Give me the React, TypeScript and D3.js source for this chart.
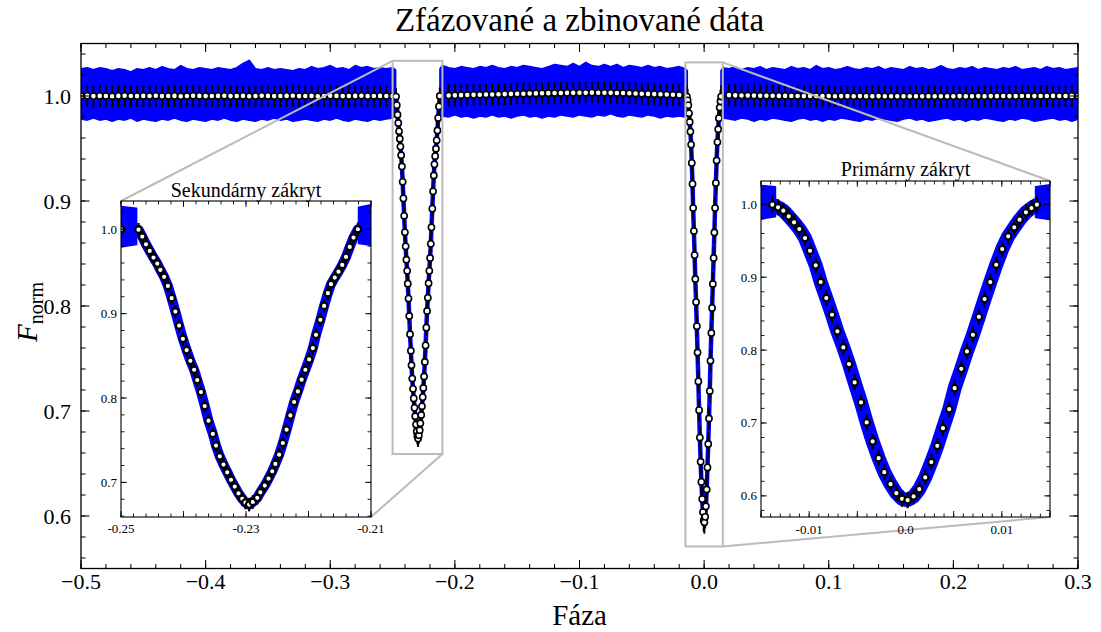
import React from 'react';
import * as d3 from 'd3';

const FONT = '"Liberation Serif"';
const BLUE = '#0000ff';
const GRAY = '#bbbbbb';

// ---------- Binned data: out-of-eclipse segments ----------
const SEG1_PHASE = [-0.5, -0.495, -0.49, -0.485, -0.48, -0.475, -0.47, -0.465, -0.46, -0.455, -0.45, -0.445, -0.44, -0.435, -0.43, -0.425, -0.42, -0.415, -0.41, -0.405, -0.4, -0.395, -0.39, -0.385, -0.38, -0.375, -0.37, -0.365, -0.36, -0.355, -0.35, -0.345, -0.34, -0.335, -0.33, -0.325, -0.32, -0.315, -0.31, -0.305, -0.3, -0.295, -0.29, -0.285, -0.28, -0.275, -0.27, -0.265, -0.26, -0.255, -0.25];
const SEG1_FLUX = [1.0, 1.0002, 0.9999, 1.0001, 1.0, 0.9998, 1.0001, 1.0002, 1.0, 0.9999,
  1.0001, 1.0, 1.0002, 0.9999, 1.0, 1.0001, 0.9998, 1.0, 1.0002, 1.0001,
  0.9999, 1.0, 1.0001, 1.0002, 0.9999, 1.0, 1.0001, 0.9998, 1.0, 1.0002,
  1.0001, 0.9999, 1.0, 1.0001, 1.0002, 0.9999, 1.0, 1.0001, 0.9998, 1.0,
  1.0002, 1.0001, 0.9999, 1.0, 1.0001, 1.0002, 0.9999, 1.0, 1.0001, 1.0, 1.0];

const SEG2_PHASE = [-0.205, -0.2, -0.195, -0.19, -0.185, -0.18, -0.175, -0.17, -0.165, -0.16, -0.155, -0.15, -0.145, -0.14, -0.135, -0.13, -0.125, -0.12, -0.115, -0.11, -0.105, -0.1, -0.095, -0.09, -0.085, -0.08, -0.075, -0.07, -0.065, -0.06, -0.055, -0.05, -0.045, -0.04, -0.035, -0.03, -0.025, -0.02];
const SEG2_FLUX = [1.0005, 1.0006, 1.0008, 1.0009, 1.0011, 1.0012, 1.0014, 1.0015, 1.0017, 1.0018,
  1.002, 1.0021, 1.0022, 1.0024, 1.0025, 1.0026, 1.0027, 1.0028, 1.0029, 1.003,
  1.003, 1.0031, 1.0031, 1.0032, 1.0031, 1.0031, 1.003, 1.0029, 1.0028, 1.0026,
  1.0024, 1.0022, 1.002, 1.0018, 1.0016, 1.0014, 1.0012, 1.001];

const SEG3_PHASE = [0.02, 0.025, 0.03, 0.035, 0.04, 0.045, 0.05, 0.055, 0.06, 0.065, 0.07, 0.075, 0.08, 0.085, 0.09, 0.095, 0.1, 0.105, 0.11, 0.115, 0.12, 0.125, 0.13, 0.135, 0.14, 0.145, 0.15, 0.155, 0.16, 0.165, 0.17, 0.175, 0.18, 0.185, 0.19, 0.195, 0.2, 0.205, 0.21, 0.215, 0.22, 0.225, 0.23, 0.235, 0.24, 0.245, 0.25, 0.255, 0.26, 0.265, 0.27, 0.275, 0.28, 0.285, 0.29, 0.295, 0.3];
const SEG3_FLUX = [1.0008, 1.0006, 1.0005, 1.0004, 1.0004, 1.0003, 1.0002, 1.0002, 1.0001, 1.0001,
  1.0, 1.0, 0.9999, 1.0, 0.9999, 0.9999, 1.0, 0.9998, 0.9999, 0.9999,
  0.9998, 0.9999, 0.9998, 0.9998, 0.9999, 0.9998, 0.9997, 0.9998, 0.9998, 0.9997,
  0.9998, 0.9997, 0.9998, 0.9998, 0.9997, 0.9998, 0.9998, 0.9999, 0.9998, 0.9998,
  0.9999, 0.9998, 0.9999, 0.9999, 1.0, 0.9999, 0.9999, 1.0, 1.0, 0.9999,
  1.0, 1.0, 1.0001, 1.0, 1.0, 1.0001, 1.0];
const OOE_ERR = 0.0105;

// ---------- Binned data: secondary eclipse ----------
const SEC_PHASE = [-0.2472, -0.2466, -0.2460, -0.2454, -0.2448, -0.2442, -0.2437, -0.2431, -0.2425, -0.2419, -0.2413, -0.2407, -0.2401, -0.2395, -0.2389, -0.2383, -0.2378, -0.2372, -0.2366, -0.2360, -0.2353, -0.2348, -0.2342, -0.2336, -0.2330, -0.2324, -0.2318, -0.2312, -0.2306, -0.2301, -0.2295, -0.2289, -0.2282, -0.2277, -0.2270, -0.2264, -0.2258, -0.2253, -0.2247, -0.2241, -0.2235, -0.2229, -0.2223, -0.2217, -0.2211, -0.2205, -0.2199, -0.2193, -0.2188, -0.2181, -0.2175, -0.2169, -0.2164, -0.2158, -0.2152, -0.2146, -0.2140, -0.2134, -0.2128, -0.2121];
const SEC_FLUX = [0.9995, 0.9913, 0.9822, 0.9743, 0.9664, 0.9593, 0.9518, 0.9436, 0.9329, 0.9183, 0.9025, 0.8859, 0.8702, 0.8568, 0.8441, 0.8335, 0.8213, 0.8071, 0.7905, 0.7731, 0.7574, 0.7436, 0.7309, 0.7211, 0.7120, 0.7030, 0.6950, 0.6871, 0.6805, 0.6761, 0.6737, 0.6769, 0.6817, 0.6883, 0.6962, 0.7045, 0.7132, 0.7219, 0.7329, 0.7467, 0.7625, 0.7794, 0.7953, 0.8078, 0.8217, 0.8335, 0.8457, 0.8592, 0.8749, 0.8927, 0.9092, 0.9243, 0.9349, 0.9427, 0.9498, 0.9578, 0.9672, 0.9791, 0.9901, 1.0000];
const SEC_ERR = 0.008;

// ---------- Binned data: primary eclipse ----------
const PRI_PHASE = [-0.01382, -0.01323, -0.01268, -0.01212, -0.01157, -0.01102, -0.01043, -0.00991, -0.00932, -0.00880, -0.00822, -0.00763, -0.00707, -0.00645, -0.00586, -0.00528, -0.00462, -0.00403, -0.00341, -0.00279, -0.00220, -0.00155, -0.00095, -0.00036, 0.00022, 0.00084, 0.00143, 0.00205, 0.00268, 0.00330, 0.00389, 0.00454, 0.00510, 0.00579, 0.00638, 0.00700, 0.00762, 0.00821, 0.00880, 0.00942, 0.01004, 0.01066, 0.01129, 0.01184, 0.01250, 0.01308, 0.01364];
const PRI_FLUX = [0.9995, 0.9959, 0.9913, 0.9835, 0.9753, 0.9661, 0.9537, 0.9363, 0.9163, 0.8933, 0.8714, 0.8485, 0.8257, 0.8037, 0.7808, 0.7557, 0.7282, 0.7008, 0.6747, 0.6517, 0.6325, 0.6161, 0.6037, 0.5959, 0.5941, 0.5992, 0.6092, 0.6253, 0.6463, 0.6686, 0.6929, 0.7190, 0.7478, 0.7743, 0.7982, 0.8210, 0.8457, 0.8700, 0.8933, 0.9171, 0.9386, 0.9561, 0.9684, 0.9789, 0.9890, 0.9949, 0.9995];
const PRI_ERR = 0.011;

// ---------- Raw-data scatter envelope (out of eclipse) ----------
const BAND1_PHASE = [...SEG1_PHASE, -0.2475];
const BAND1_HI = [1.026, 1.027, 1.025, 1.027, 1.026, 1.024, 1.026, 1.025, 1.023, 1.026,
  1.025, 1.027, 1.025, 1.028, 1.026, 1.025, 1.029, 1.026, 1.025, 1.027,
  1.026, 1.025, 1.027, 1.026, 1.025, 1.027, 1.031, 1.034, 1.026, 1.025,
  1.027, 1.025, 1.026, 1.025, 1.024, 1.026, 1.025, 1.028, 1.026, 1.027,
  1.029, 1.026, 1.027, 1.025, 1.029, 1.027, 1.028, 1.026, 1.027, 1.026, 1.027, 1.025];
const BAND1_LO = [0.978, 0.977, 0.979, 0.977, 0.978, 0.976, 0.978, 0.977, 0.979, 0.976,
  0.978, 0.977, 0.976, 0.978, 0.977, 0.979, 0.977, 0.976, 0.978, 0.977,
  0.976, 0.978, 0.977, 0.979, 0.977, 0.976, 0.978, 0.977, 0.976, 0.978,
  0.977, 0.979, 0.977, 0.978, 0.976, 0.977, 0.978, 0.977, 0.976, 0.978,
  0.977, 0.979, 0.977, 0.976, 0.978, 0.977, 0.976, 0.978, 0.977, 0.978, 0.979, 0.982];

const BAND2_PHASE = [-0.212, -0.21, ...SEG2_PHASE, -0.015, -0.0135];
const BAND2_HI = [1.026, 1.029, 1.027, 1.026, 1.028, 1.027, 1.026, 1.028, 1.027, 1.029,
  1.027, 1.026, 1.028, 1.027, 1.029, 1.028, 1.027, 1.026, 1.028, 1.030,
  1.029, 1.028, 1.031, 1.028, 1.032, 1.029, 1.028, 1.030, 1.028, 1.030,
  1.027, 1.029, 1.028, 1.027, 1.029, 1.027, 1.028, 1.026, 1.027, 1.028, 1.026, 1.024];
const BAND2_LO = [0.983, 0.981, 0.980, 0.982, 0.980, 0.981, 0.979, 0.981, 0.980, 0.982,
  0.980, 0.981, 0.979, 0.981, 0.982, 0.980, 0.981, 0.979, 0.981, 0.980,
  0.982, 0.981, 0.980, 0.982, 0.981, 0.980, 0.982, 0.981, 0.983, 0.981,
  0.980, 0.982, 0.981, 0.980, 0.982, 0.981, 0.979, 0.981, 0.980, 0.981, 0.980, 0.983];

const BAND3_PHASE = [0.0135, 0.015, ...SEG3_PHASE];
const BAND3_HI = [1.024, 1.027, 1.026, 1.028, 1.025, 1.027, 1.026, 1.028, 1.025, 1.027,
  1.026, 1.025, 1.028, 1.026, 1.027, 1.025, 1.029, 1.026, 1.027, 1.025,
  1.026, 1.028, 1.026, 1.025, 1.027, 1.026, 1.028, 1.025, 1.027, 1.026,
  1.025, 1.028, 1.026, 1.027, 1.025, 1.026, 1.029, 1.026, 1.025, 1.027,
  1.026, 1.028, 1.025, 1.027, 1.026, 1.025, 1.027, 1.026, 1.028, 1.025,
  1.026, 1.027, 1.025, 1.028, 1.026, 1.027, 1.025, 1.026, 1.027];
const BAND3_LO = [0.982, 0.979, 0.978, 0.977, 0.979, 0.978, 0.976, 0.978, 0.977, 0.979,
  0.978, 0.977, 0.976, 0.978, 0.979, 0.977, 0.978, 0.976, 0.978, 0.977,
  0.979, 0.978, 0.977, 0.976, 0.978, 0.977, 0.979, 0.978, 0.977, 0.976,
  0.978, 0.979, 0.977, 0.978, 0.976, 0.977, 0.978, 0.979, 0.977, 0.978,
  0.976, 0.978, 0.977, 0.979, 0.978, 0.977, 0.976, 0.978, 0.977, 0.979,
  0.978, 0.976, 0.977, 0.978, 0.979, 0.977, 0.978, 0.976, 0.978];

// ---------- Ticks / labels ----------
const MAIN_X_TICKS = [-0.5, -0.4, -0.3, -0.2, -0.1, 0.0, 0.1, 0.2, 0.3];
const MAIN_Y_TICKS = [0.6, 0.7, 0.8, 0.9, 1.0];
const SEC_X_TICKS = [-0.25, -0.24, -0.23, -0.22, -0.21];
const SEC_X_LABELS = [[-0.25, '-0.25'], [-0.23, '-0.23'], [-0.21, '-0.21']];
const SEC_Y_TICKS = [0.7, 0.8, 0.9, 1.0];
const PRI_X_TICKS = [-0.015, -0.01, -0.005, 0, 0.005, 0.01, 0.015];
const PRI_X_LABELS = [[-0.01, '-0.01'], [0, '0.0'], [0.01, '0.01']];
const PRI_Y_TICKS = [0.6, 0.7, 0.8, 0.9, 1.0];

const TITLE = 'Zfázované a zbinované dáta';
const XLABEL = 'Fáza';
const SEC_TITLE = 'Sekundárny zákryt';
const PRI_TITLE = 'Primárny zákryt';

function zip(...arrs: number[][]) {
  const n = Math.min(...arrs.map(a => a.length));
  return d3.range(n).map(i => arrs.map(a => a[i]));
}

const BANDS = [zip(BAND1_PHASE, BAND1_HI, BAND1_LO), zip(BAND2_PHASE, BAND2_HI, BAND2_LO), zip(BAND3_PHASE, BAND3_HI, BAND3_LO)];
const SEC = zip(SEC_PHASE, SEC_FLUX);
const PRI = zip(PRI_PHASE, PRI_FLUX);
const POINTS = [
  ...zip(SEG1_PHASE, SEG1_FLUX).map(d => [d[0], d[1], OOE_ERR]),
  ...SEC.map(d => [d[0], d[1], SEC_ERR]),
  ...zip(SEG2_PHASE, SEG2_FLUX).map(d => [d[0], d[1], OOE_ERR]),
  ...PRI.map(d => [d[0], d[1], PRI_ERR]),
  ...zip(SEG3_PHASE, SEG3_FLUX).map(d => [d[0], d[1], OOE_ERR]),
];

const T: React.CSSProperties = { fontFamily: FONT };

function DataLayer({ x, y, clip, secW, priW, r, sw, barW }: any) {
  const area = d3.area<number[]>().x(d => x(d[0])).y0(d => y(d[2])).y1(d => y(d[1]));
  const line = d3.line<number[]>().x(d => x(d[0])).y(d => y(d[1]));
  return (
    <g clipPath={`url(#${clip})`}>
      {BANDS.map((b, i) => <path key={'b' + i} d={area(b) || ''} fill={BLUE} stroke={BLUE} strokeWidth={1.5} strokeLinejoin="round" />)}
      <path d={line(SEC) || ''} fill="none" stroke={BLUE} strokeWidth={secW} strokeLinejoin="round" strokeLinecap="round" />
      <path d={line(PRI) || ''} fill="none" stroke={BLUE} strokeWidth={priW} strokeLinejoin="round" strokeLinecap="round" />
      {POINTS.map((p, i) => (
        <line key={'e' + i} x1={x(p[0])} x2={x(p[0])} y1={y(p[1] - p[2])} y2={y(p[1] + p[2])} stroke="#000" strokeWidth={barW} />
      ))}
      {POINTS.map((p, i) => (
        <circle key={'c' + i} cx={x(p[0])} cy={y(p[1])} r={r} fill="#fff" stroke="#000" strokeWidth={sw} />
      ))}
    </g>
  );
}

function Frame({ x, y, xMaj, xMin, yMaj, yMin, maj, min, lw }: any) {
  const [x0, x1] = x.range();
  const [y0, y1] = y.range();
  const [dx0, dx1] = x.domain();
  const [dy0, dy1] = y.domain();
  const segs: number[][] = [];
  const inX = (v: number) => v >= dx0 - 1e-9 && v <= dx1 + 1e-9;
  const inY = (v: number) => v >= dy0 - 1e-9 && v <= dy1 + 1e-9;
  const addX = (v: number, L: number) => { if (!inX(v)) return; const px = x(v); segs.push([px, y0, px, y0 - L], [px, y1, px, y1 + L]); };
  const addY = (v: number, L: number) => { if (!inY(v)) return; const py = y(v); segs.push([x0, py, x0 + L, py], [x1, py, x1 - L, py]); };
  xMin.forEach((v: number) => addX(v, min));
  xMaj.forEach((v: number) => addX(v, maj));
  yMin.forEach((v: number) => addY(v, min));
  yMaj.forEach((v: number) => addY(v, maj));
  return (
    <g>
      {segs.map((s, i) => <line key={i} x1={s[0]} y1={s[1]} x2={s[2]} y2={s[3]} stroke="#000" strokeWidth={lw * 0.8} />)}
      <rect x={x0} y={y1} width={x1 - x0} height={y0 - y1} fill="none" stroke="#000" strokeWidth={lw} />
    </g>
  );
}

export default function App() {
  const W = 1101, H = 632;
  const x = d3.scaleLinear().domain([-0.5, 0.3]).range([81, 1078]);
  const y = d3.scaleLinear().domain([0.55, 1.05]).range([568.5, 43.5]);
  const xS = d3.scaleLinear().domain([-0.25, -0.21]).range([121, 371]);
  const yS = d3.scaleLinear().domain([0.659, 1.0335]).range([517, 201]);
  const xP = d3.scaleLinear().domain([-0.015, 0.015]).range([761, 1050]);
  const yP = d3.scaleLinear().domain([0.571, 1.032]).range([517, 181]);

  const mainXMinor = d3.range(-25, 16).map(i => i * 0.02);
  const mainYMinor = d3.range(28, 53).map(i => i * 0.02);
  const secXMinor = d3.range(-125, -104).map(i => i * 0.002);
  const secYMinor = d3.range(33, 52).map(i => i * 0.02);
  const priXMinor = d3.range(-15, 16).map(i => i * 0.001);
  const priYMinor = d3.range(29, 52).map(i => i * 0.02);

  const fmtMain = (v: number) => (v < -1e-9 ? '\u2212' : '') + Math.abs(v).toFixed(1);

  const sR = { x0: x(-0.25), x1: x(-0.21), y0: y(1.0335), y1: y(0.659) };
  const pR = { x0: x(-0.015), x1: x(0.015), y0: y(1.032), y1: y(0.571) };

  return (
    <svg width={W} height={H} style={{ position: 'absolute', left: 0, top: 0, background: '#fff' }}>
      <defs>
        <clipPath id="clipMain"><rect x={81} y={43.5} width={997} height={525} /></clipPath>
        <clipPath id="clipSec"><rect x={121} y={201} width={250} height={316} /></clipPath>
        <clipPath id="clipPri"><rect x={761} y={181} width={289} height={336} /></clipPath>
      </defs>
      <rect x={0} y={0} width={W} height={H} fill="#fff" />

      {/* main axes */}
      <DataLayer x={x} y={y} clip="clipMain" secW={4.5} priW={4.5} r={3.1} sw={1.6} barW={1.9} />
      <Frame x={x} y={y} xMaj={MAIN_X_TICKS} xMin={mainXMinor} yMaj={MAIN_Y_TICKS} yMin={mainYMinor} maj={8.5} min={4.5} lw={1.3} />
      {MAIN_X_TICKS.map(v => (
        <text key={'mx' + v} style={T} x={x(v)} y={589} fontSize={22} textAnchor="middle">{fmtMain(v)}</text>
      ))}
      {MAIN_Y_TICKS.map(v => (
        <text key={'my' + v} style={T} x={71} y={y(v) + 7.5} fontSize={22} textAnchor="end">{v.toFixed(1)}</text>
      ))}

      {/* zoom indicators */}
      <g stroke={GRAY} strokeWidth={2} fill="none">
        <rect x={sR.x0} y={sR.y0} width={sR.x1 - sR.x0} height={sR.y1 - sR.y0} />
        <rect x={pR.x0} y={pR.y0} width={pR.x1 - pR.x0} height={pR.y1 - pR.y0} />
        <line x1={sR.x0} y1={sR.y0} x2={121} y2={201} />
        <line x1={sR.x1} y1={sR.y1} x2={371} y2={517} />
        <line x1={pR.x1} y1={pR.y0} x2={1050} y2={181} />
        <line x1={pR.x1} y1={pR.y1} x2={1050} y2={517} />
      </g>

      {/* secondary inset */}
      <rect x={121} y={201} width={250} height={316} fill="#fff" />
      <DataLayer x={xS} y={yS} clip="clipSec" secW={10} priW={10} r={3.2} sw={2.2} barW={2.2} />
      <Frame x={xS} y={yS} xMaj={SEC_X_TICKS} xMin={secXMinor} yMaj={SEC_Y_TICKS} yMin={secYMinor} maj={6} min={3.5} lw={1.1} />
      {SEC_X_LABELS.map(([v, t]: any) => (
        <text key={'sx' + t} style={T} x={xS(v)} y={533} fontSize={13} textAnchor="middle">{t}</text>
      ))}
      {SEC_Y_TICKS.map(v => (
        <text key={'sy' + v} style={T} x={117} y={yS(v) + 4.5} fontSize={13} textAnchor="end">{v.toFixed(1)}</text>
      ))}
      <text style={T} x={246} y={197} fontSize={20} textAnchor="middle">{SEC_TITLE}</text>

      {/* primary inset */}
      <rect x={761} y={181} width={289} height={336} fill="#fff" />
      <DataLayer x={xP} y={yP} clip="clipPri" secW={14} priW={14} r={3.2} sw={2.2} barW={2.2} />
      <Frame x={xP} y={yP} xMaj={PRI_X_TICKS} xMin={priXMinor} yMaj={PRI_Y_TICKS} yMin={priYMinor} maj={6} min={3.5} lw={1.1} />
      {PRI_X_LABELS.map(([v, t]: any) => (
        <text key={'px' + t} style={T} x={xP(v)} y={534} fontSize={13} textAnchor="middle">{t}</text>
      ))}
      {PRI_Y_TICKS.map(v => (
        <text key={'py' + v} style={T} x={757} y={yP(v) + 4.5} fontSize={13} textAnchor="end">{v.toFixed(1)}</text>
      ))}
      <text style={T} x={905.5} y={176} fontSize={20} textAnchor="middle">{PRI_TITLE}</text>

      {/* titles */}
      <text style={T} x={579.5} y={31} fontSize={33} textAnchor="middle">{TITLE}</text>
      <text style={T} x={579.5} y={625} fontSize={29} textAnchor="middle">{XLABEL}</text>
      <text style={T} transform="translate(37,312) rotate(-90)" textAnchor="middle">
        <tspan fontSize={29} fontStyle="italic">F</tspan>
        <tspan fontSize={20} dy={6}>norm</tspan>
      </text>
    </svg>
  );
}
